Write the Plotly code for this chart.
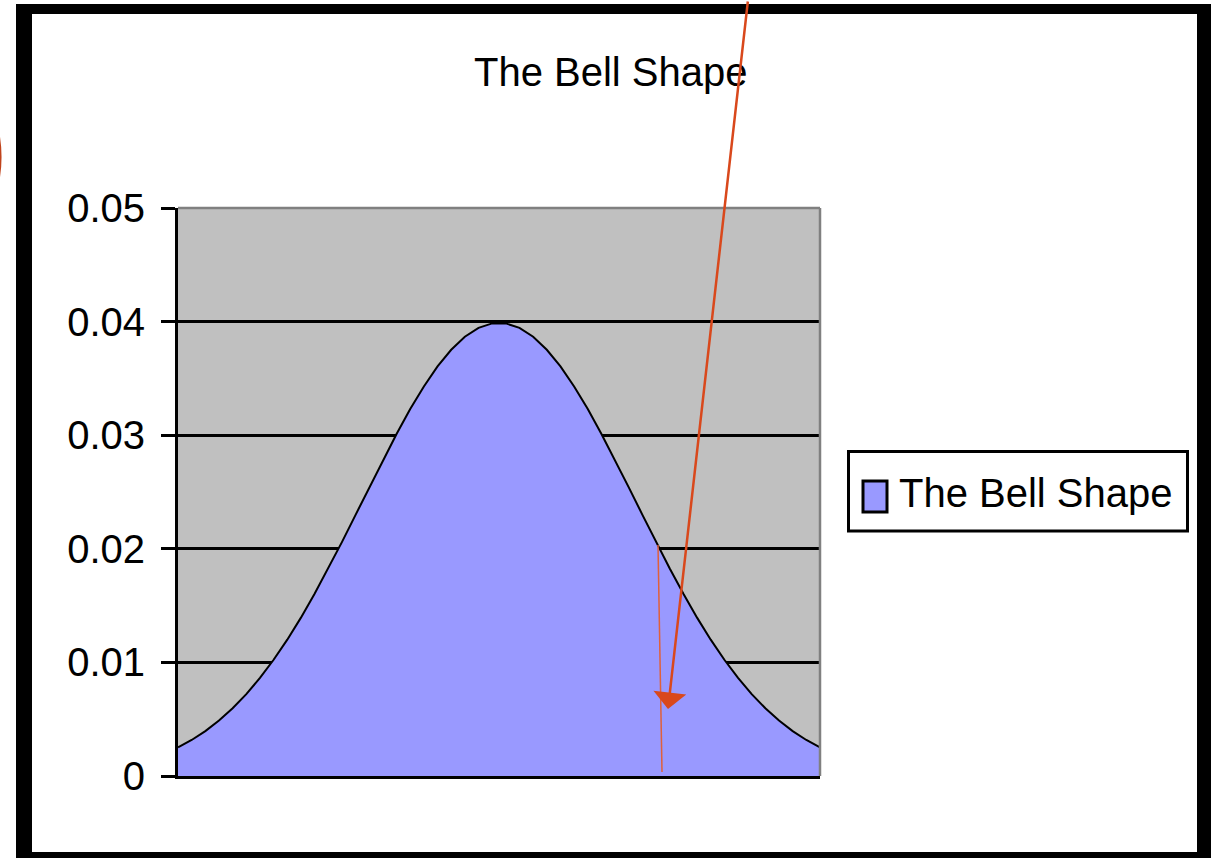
import plotly.graph_objects as go

# ---- data ----
series_name = "The Bell Shape"
values = [
    0.00252, 0.00317, 0.00395, 0.00488, 0.00596, 0.00721, 0.00863, 0.01023,
    0.01200, 0.01394, 0.01604, 0.01827, 0.02059, 0.02299, 0.02541, 0.02780,
    0.03011, 0.03230, 0.03429, 0.03605, 0.03752, 0.03867, 0.03945, 0.03984,
    0.03984, 0.03945, 0.03867, 0.03752, 0.03605, 0.03429, 0.03230, 0.03011,
    0.02780, 0.02541, 0.02299, 0.02059, 0.01827, 0.01604, 0.01394, 0.01200,
    0.01023, 0.00863, 0.00721, 0.00596, 0.00488, 0.00395, 0.00317, 0.00252,
]
categories = list(range(1, len(values) + 1))
y_tick_values = [0, 0.01, 0.02, 0.03, 0.04, 0.05]
y_tick_labels = ["0", "0.01", "0.02", "0.03", "0.04", "0.05"]

W, H = 1211, 858
L, R, T, B = 178, 820, 208, 776  # plot area in pixels


def px(x):
    return (x - L) / (R - L)


def py(y):
    return (B - y) / (B - T)


FONT = "Liberation Sans, Arial, sans-serif"

fig = go.Figure()
fig.add_trace(go.Scatter(
    x=categories, y=values, mode="lines", name=series_name,
    fill="tozeroy", fillcolor="#9999FF",
    line=dict(color="black", width=2), showlegend=False,
))

shapes = []
# plot-area top/right grey border
shapes.append(dict(type="line", xref="paper", yref="paper", x0=0, x1=1, y0=1, y1=1,
                   line=dict(color="#808080", width=2.5), layer="above"))
shapes.append(dict(type="line", xref="paper", yref="paper", x0=1, x1=1, y0=0, y1=1,
                   line=dict(color="#808080", width=2.5), layer="above"))
# legend box
shapes.append(dict(type="rect", xref="paper", yref="paper",
                   x0=px(848.5), x1=px(1187.5), y0=py(451.5), y1=py(531),
                   line=dict(color="black", width=3), fillcolor="white", layer="above"))
shapes.append(dict(type="rect", xref="paper", yref="paper",
                   x0=px(863), x1=px(887), y0=py(481), y1=py(512),
                   line=dict(color="black", width=3), fillcolor="#9999FF", layer="above"))
# outer black frame
for (x0, y0, x1, y1) in [(16, 4, 32, 860), (16, 4, 1213, 14), (1197, 4, 1213, 860), (16, 852, 1213, 860)]:
    shapes.append(dict(type="rect", xref="paper", yref="paper",
                       x0=px(x0), x1=px(x1), y0=py(y1), y1=py(y0),
                       line=dict(width=0), fillcolor="black", layer="above"))
# thin red vertical mark
shapes.append(dict(type="line", xref="paper", yref="paper",
                   x0=px(658), x1=px(662), y0=py(545), y1=py(772),
                   line=dict(color="#E0603A", width=1.5), layer="above"))
# red circle edge at far left
shapes.append(dict(type="circle", xref="paper", yref="paper",
                   x0=px(-200), x1=px(0.3), y0=py(272), y1=py(42),
                   line=dict(color="#C0441C", width=2.5), layer="above"))

annotations = [
    dict(text="The Bell Shape", xref="paper", yref="paper", x=px(611), y=py(72),
         xanchor="center", yanchor="middle", showarrow=False,
         font=dict(family=FONT, size=40, color="black")),
    dict(text=series_name, xref="paper", yref="paper", x=px(897), y=py(493),
         xanchor="left", yanchor="middle", showarrow=False,
         font=dict(family=FONT, size=40, color="black")),
    dict(text="", xref="paper", yref="paper", x=px(668), y=py(709),
         ax=80, ay=-712, showarrow=True, arrowhead=1, arrowsize=2.2,
         arrowwidth=2.5, arrowcolor="#D9481C"),
]

fig.update_layout(
    width=W, height=H,
    margin=dict(l=L, r=W - R, t=T, b=H - B, pad=0),
    paper_bgcolor="white", plot_bgcolor="#C0C0C0",
    shapes=shapes, annotations=annotations,
    showlegend=False,
    font=dict(family=FONT, size=40, color="black"),
)
fig.update_xaxes(range=[categories[0], categories[-1]], showgrid=False, zeroline=False,
                 showline=True, linecolor="black", linewidth=3, showticklabels=False,
                 ticks="", fixedrange=True)
fig.update_yaxes(range=[0, 0.05], tickvals=y_tick_values, ticktext=y_tick_labels,
                 showgrid=True, gridcolor="black", gridwidth=2.5, zeroline=False,
                 showline=True, linecolor="black", linewidth=3,
                 ticks="outside", ticklen=14, tickwidth=3, tickcolor="black",
                 ticklabelstandoff=8, tickfont=dict(family=FONT, size=40), fixedrange=True)

fig.write_html("out.html", config={"displayModeBar": False},
               post_script="document.body.style.margin='0px';document.body.style.overflow='hidden';")
